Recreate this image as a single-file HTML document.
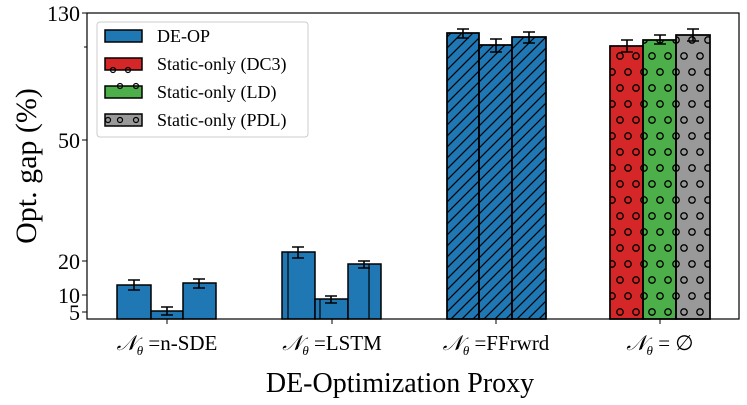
<!DOCTYPE html>
<html><head><meta charset="utf-8"><style>
html,body{margin:0;padding:0;background:#fff}
svg{display:block}
text{font-family:"Liberation Serif",serif;fill:#000}
</style></head><body>
<svg width="747" height="405" viewBox="0 0 747 405" xmlns="http://www.w3.org/2000/svg">
<defs>
<pattern id="diag" patternUnits="userSpaceOnUse" width="11" height="11">
<path d="M-1,12 L12,-1 M-6,6 L6,-6 M5,17 L17,5" stroke="#000" stroke-width="1.2"/>
</pattern>
<pattern id="circ" patternUnits="userSpaceOnUse" width="16" height="32" x="0" y="0">
<circle cx="4" cy="8" r="3.2" fill="none" stroke="#000" stroke-width="1.3"/>
<circle cx="12" cy="24" r="3.2" fill="none" stroke="#000" stroke-width="1.3"/>
</pattern>
</defs>
<g stroke="#000" stroke-width="1.5" fill="#1f77b4">
<rect x="117" y="285" width="34" height="34"/>
<rect x="151" y="311" width="32" height="8"/>
<rect x="183" y="283" width="33" height="36"/>
<rect x="282" y="252" width="33" height="67"/>
<rect x="315" y="299" width="33" height="20"/>
<rect x="348" y="264" width="33" height="55"/>
<rect x="447" y="33" width="32" height="286"/>
<rect x="479" y="45" width="33" height="274"/>
<rect x="512" y="37" width="34" height="282"/>
</g>
<g stroke="#000" stroke-width="1.2">
<line x1="288" y1="252" x2="288" y2="319"/><line x1="320" y1="299" x2="320" y2="319"/><line x1="369" y1="264" x2="369" y2="319"/>
</g>
<g stroke="#000" stroke-width="1.5" fill="url(#diag)">
<rect x="447" y="33" width="32" height="286"/>
<rect x="479" y="45" width="33" height="274"/>
<rect x="512" y="37" width="34" height="282"/>
</g>
<g stroke="#000" stroke-width="1.5">
<rect x="610" y="46" width="33" height="273" fill="#d62728"/>
<rect x="643" y="40" width="33" height="279" fill="#4daf4a"/>
<rect x="676" y="35" width="34" height="284" fill="#999999"/>
<rect x="610" y="46" width="33" height="273" fill="url(#circ)"/>
<rect x="643" y="40" width="33" height="279" fill="url(#circ)"/>
<rect x="676" y="35" width="34" height="284" fill="url(#circ)"/>
</g>
<g stroke="#000" stroke-width="1.6" fill="none">
<path d="M134,280V290M128,280H140M128,290H140"/>
<path d="M167,307V315M161,307H173M161,315H173"/>
<path d="M199,279V288M193,279H205M193,288H205"/>
<path d="M298,247V258M292,247H304M292,258H304"/>
<path d="M331,296V303M325,296H337M325,303H337"/>
<path d="M364,261V268M358,261H370M358,268H370"/>
<path d="M463,29V38M457,29H469M457,38H469"/>
<path d="M496,39V52M490,39H502M490,52H502"/>
<path d="M529,32V43M523,32H535M523,43H535"/>
<path d="M627,40V52M621,40H633M621,52H633"/>
<path d="M660,35V44M654,35H666M654,44H666"/>
<path d="M693,29V41M687,29H699M687,41H699"/>
</g>
<rect x="87" y="13" width="652" height="306" fill="none" stroke="#000" stroke-width="1.2"/>
<g stroke="#000" stroke-width="1">
<line x1="82" y1="13" x2="87" y2="13"/><line x1="84" y1="47" x2="87" y2="47"/>
<line x1="82" y1="140" x2="87" y2="140"/><line x1="82" y1="261" x2="87" y2="261"/>
<line x1="82" y1="295" x2="87" y2="295"/><line x1="82" y1="312" x2="87" y2="312"/>
<line x1="167" y1="319" x2="167" y2="324"/><line x1="332" y1="319" x2="332" y2="324"/>
<line x1="496" y1="319" x2="496" y2="324"/><line x1="660" y1="319" x2="660" y2="324"/>
</g>
<g font-size="22" text-anchor="end">
<text x="80" y="21">130</text><text x="80" y="148">50</text><text x="80" y="269">20</text>
<text x="80" y="303">10</text><text x="80" y="320">5</text>
</g>
<text transform="translate(36,166) rotate(-90)" font-size="30" text-anchor="middle">Opt. gap (%)</text>
<g font-size="21" text-anchor="middle">
<text x="167" y="350"><tspan font-style="italic">𝒩<tspan font-size="13" dy="5">θ</tspan></tspan><tspan dy="-5"> =n-SDE</tspan></text>
<text x="332" y="350"><tspan font-style="italic">𝒩<tspan font-size="13" dy="5">θ</tspan></tspan><tspan dy="-5"> =LSTM</tspan></text>
<text x="496" y="350"><tspan font-style="italic">𝒩<tspan font-size="13" dy="5">θ</tspan></tspan><tspan dy="-5"> =FFrwrd</tspan></text>
<text x="660" y="350"><tspan font-style="italic">𝒩<tspan font-size="13" dy="5">θ</tspan></tspan><tspan dy="-5"> = ∅</tspan></text>
</g>
<text x="400" y="392" font-size="28" text-anchor="middle">DE-Optimization Proxy</text>
<rect x="97" y="22" width="211" height="115" rx="3" fill="#fff" fill-opacity="0.85" stroke="#ccc" stroke-width="1"/>
<g stroke="#000" stroke-width="1.5">
<rect x="105" y="30" width="37" height="12" fill="#1f77b4"/>
<rect x="105" y="58" width="37" height="12" fill="#d62728"/>
<rect x="105" y="86" width="37" height="12" fill="#4daf4a"/>
<rect x="105" y="114" width="37" height="12" fill="#999999"/>
</g>
<g stroke="#000" stroke-width="1.2" fill="none">
<circle cx="113" cy="70" r="2.5"/><circle cx="128" cy="70" r="2.5"/>
<circle cx="120" cy="86" r="2.5"/><circle cx="136" cy="86" r="2.5"/>
<circle cx="108" cy="120" r="2.5"/><circle cx="120" cy="120" r="2.5"/><circle cx="136" cy="120" r="2.5"/>
</g>
<g font-size="18">
<text x="157" y="42">DE-OP</text>
<text x="157" y="70">Static-only (DC3)</text>
<text x="157" y="98">Static-only (LD)</text>
<text x="157" y="126">Static-only (PDL)</text>
</g>
</svg>
</body></html>
